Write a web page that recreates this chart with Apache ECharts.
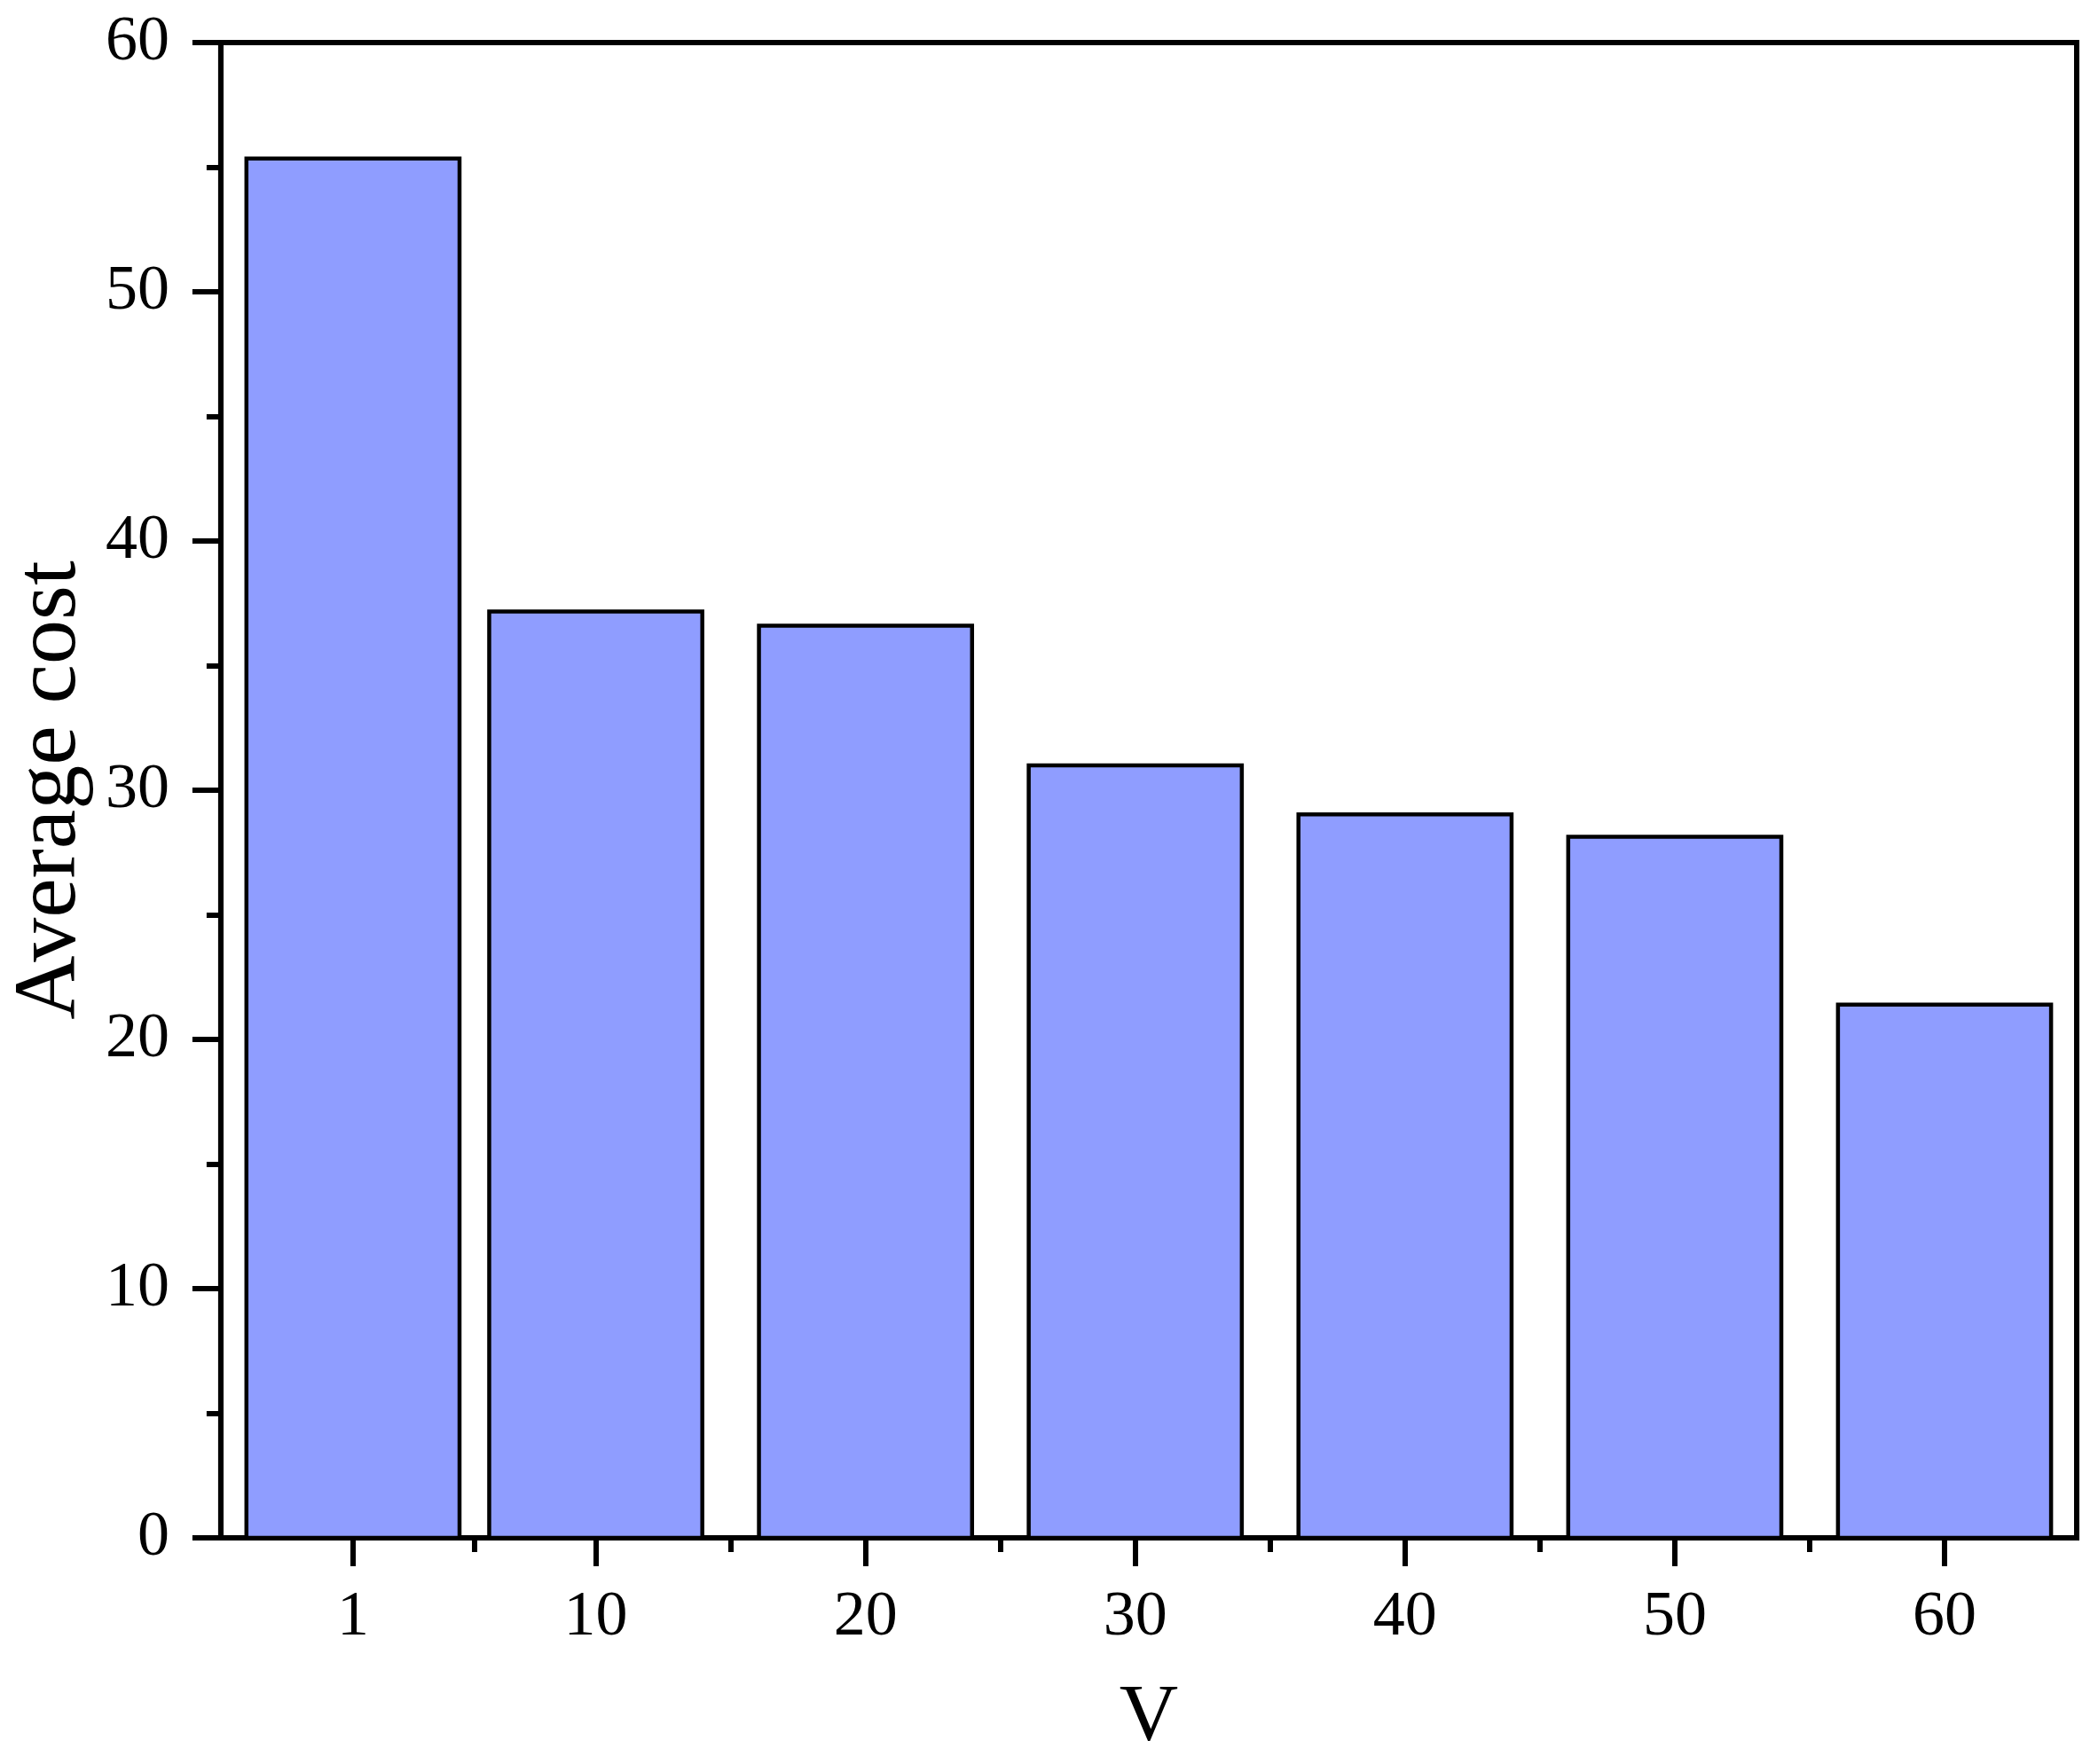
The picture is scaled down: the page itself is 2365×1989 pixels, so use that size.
<!DOCTYPE html>
<html>
<head>
<meta charset="utf-8">
<title>Average cost</title>
<script src="https://cdn.jsdelivr.net/npm/echarts@6.0.0/dist/echarts.min.js"></script>
<style>
  html, body { margin: 0; padding: 0; background: #fff; }
  #chart { width: 2365px; height: 1989px; }
</style>
</head>
<body>
<div id="chart"></div>
<script>
// data
var vValues = [1, 10, 20, 30, 40, 50, 60];
var avgCost = [55.35, 37.17, 36.6, 31.0, 29.03, 28.13, 21.4];
var xTickValues = [1, 10, 20, 30, 40, 50, 60];
var xMinorTickValues = [5.5, 15, 25, 35, 45, 55];
var halfBar = 3.95; // half bar width in x units

var font = "'Liberation Serif', 'Times New Roman', serif";
var black = '#000';
var barColor = '#8F9DFF';

var chartDom = document.getElementById('chart');
var myChart = echarts.init(chartDom);

var seriesData = vValues.map(function (v, i) { return [v, avgCost[i]]; });

var option = {
  animation: false,
  backgroundColor: '#fff',
  grid: {
    left: 246,
    top: 48,
    right: 24,
    bottom: 252,
    show: true,
    borderColor: black,
    borderWidth: 6,
    backgroundColor: 'transparent'
  },
  xAxis: [
    {
      type: 'value',
      position: 'bottom',
      min: -3.9,
      max: 64.9,
      axisLine: { show: true, onZero: false, lineStyle: { color: black, width: 6 } },
      axisTick: {
        show: true,
        customValues: xTickValues,
        length: 32,
        lineStyle: { color: black, width: 6 }
      },
      axisLabel: {
        show: true,
        customValues: xTickValues,
        margin: 54,
        color: black,
        fontSize: 72,
        fontFamily: font
      },
      splitLine: { show: false },
      name: 'V',
      nameLocation: 'middle',
      nameGap: 158,
      nameTextStyle: { color: black, fontSize: 92, fontFamily: font }
    },
    {
      type: 'value',
      position: 'bottom',
      min: -3.9,
      max: 64.9,
      axisLine: { show: false, onZero: false },
      axisTick: {
        show: true,
        customValues: xMinorTickValues,
        length: 16,
        lineStyle: { color: black, width: 6 }
      },
      axisLabel: { show: false },
      splitLine: { show: false }
    }
  ],
  yAxis: {
    type: 'value',
    min: 0,
    max: 60,
    interval: 10,
    axisLine: { show: true, onZero: false, lineStyle: { color: black, width: 6 } },
    axisTick: { show: true, length: 32, lineStyle: { color: black, width: 6 } },
    minorTick: { show: true, splitNumber: 2, length: 16, lineStyle: { color: black, width: 6 } },
    axisLabel: { margin: 58, color: black, fontSize: 72, fontFamily: font },
    splitLine: { show: false },
    name: 'Average cost',
    nameLocation: 'middle',
    nameRotate: 90,
    nameGap: 126,
    nameTextStyle: { color: black, fontSize: 100, fontFamily: font }
  },
  series: [
    {
      type: 'custom',
      xAxisIndex: 0,
      data: seriesData,
      encode: { x: 0, y: 1 },
      renderItem: function (params, api) {
        var x = api.value(0);
        var y = api.value(1);
        var p1 = api.coord([x - halfBar, y]);
        var p2 = api.coord([x + halfBar, 0]);
        return {
          type: 'rect',
          shape: { x: p1[0], y: p1[1], width: p2[0] - p1[0], height: p2[1] - p1[1] },
          style: { fill: barColor, stroke: black, lineWidth: 4.5 }
        };
      }
    }
  ]
};

option && myChart.setOption(option);
</script>
</body>
</html>
